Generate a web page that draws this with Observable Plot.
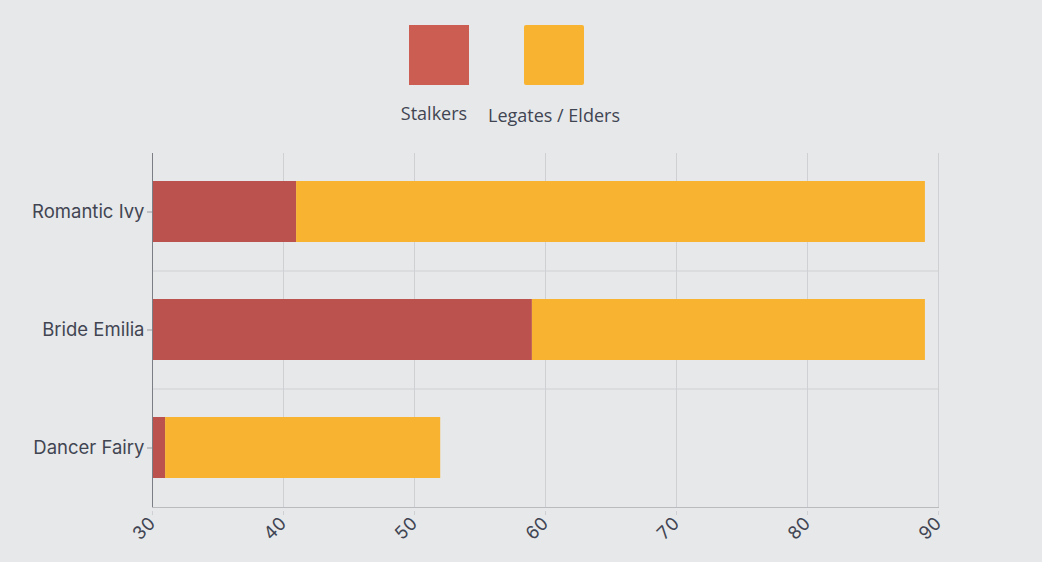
<!DOCTYPE html>
<html><head><meta charset="utf-8">
<script src="https://cdn.jsdelivr.net/npm/d3@7"></script>
<script src="https://cdn.jsdelivr.net/npm/@observablehq/plot@0.6"></script>
<style>
body{margin:0;background:#e7e8ea;width:1042px;height:562px;overflow:hidden;}
#legend{position:relative;height:140px;font-family:"Open Sans",sans-serif;font-size:18px;color:#414552;}
.sw{position:absolute;top:25px;width:60px;height:60px;}
.lb{position:absolute;white-space:nowrap;transform:translateX(-50%);}
</style></head><body>
<div id="legend"></div>
<div id="chart"></div>
<script>
const categories = ["Romantic Ivy", "Bride Emilia", "Dancer Fairy"];
const stalkers = [41, 59, 31];
const legates = [48, 30, 21];
const seriesNames = ["Stalkers", "Legates / Elders"];
const barColors = ["#bb524e", "#f8b330"];
const legendColors = ["#cc5d53", "#f8b330"];
const xTicks = [30, 40, 50, 60, 70, 80, 90];

const data = [];
categories.forEach((c, i) => {
  data.push({cat: c, series: seriesNames[0], value: stalkers[i]});
  data.push({cat: c, series: seriesNames[1], value: legates[i]});
});

// legend
const lg = document.getElementById("legend");
const swX = [409, 524], lbX = [434, 554], lbY = [101, 103];
seriesNames.forEach((s, i) => {
  const sw = document.createElement("div");
  sw.className = "sw"; sw.style.left = swX[i] + "px"; sw.style.background = legendColors[i];
  if (i === 1) sw.style.borderRadius = "2px";
  lg.appendChild(sw);
  const lb = document.createElement("div");
  lb.className = "lb"; lb.style.left = lbX[i] + "px"; lb.style.top = lbY[i] + "px";
  lb.textContent = s;
  lg.appendChild(lb);
});

const step = (507 - 153) / categories.length;
const chart = Plot.plot({
  width: 1042, height: 422,
  marginTop: 13, marginBottom: 55, marginLeft: 152, marginRight: 104,
  style: {background: "transparent", fontFamily: "Inter, sans-serif", fontSize: "18px", color: "#414552"},
  x: {domain: [30, 90], clamp: true, ticks: xTicks, label: null},
  y: {domain: categories, paddingInner: 0.48, paddingOuter: 0.24, label: null},
  color: {domain: seriesNames, range: barColors},
  marks: [
    Plot.ruleX(xTicks.slice(1), {stroke: "#cfd0d3", strokeWidth: 1}),
    Plot.ruleY(categories.slice(1), {dy: -step / 2, stroke: "#cfd0d3", strokeWidth: 1}),
    Plot.barX(data, Plot.stackX({y: "cat", x: "value", fill: "series", order: seriesNames})),
    Plot.ruleX([30], {stroke: "#7b7e84", strokeWidth: 1}),
    Plot.frame({anchor: "bottom", stroke: "#b9bbbf"}),
    Plot.axisY({tickSize: 5, tickPadding: 3, stroke: "#9a9ca1", fontSize: 18.5, fill: "#414552"}),
    Plot.axisX({ticks: xTicks, tickSize: 4, tickPadding: 5, dy: 4, tickRotate: -45, stroke: "#cfd0d3", fontSize: 18, fill: "#414552", tickFormat: d => String(d)})
  ]
});
document.getElementById("chart").appendChild(chart);
</script>
</body></html>
